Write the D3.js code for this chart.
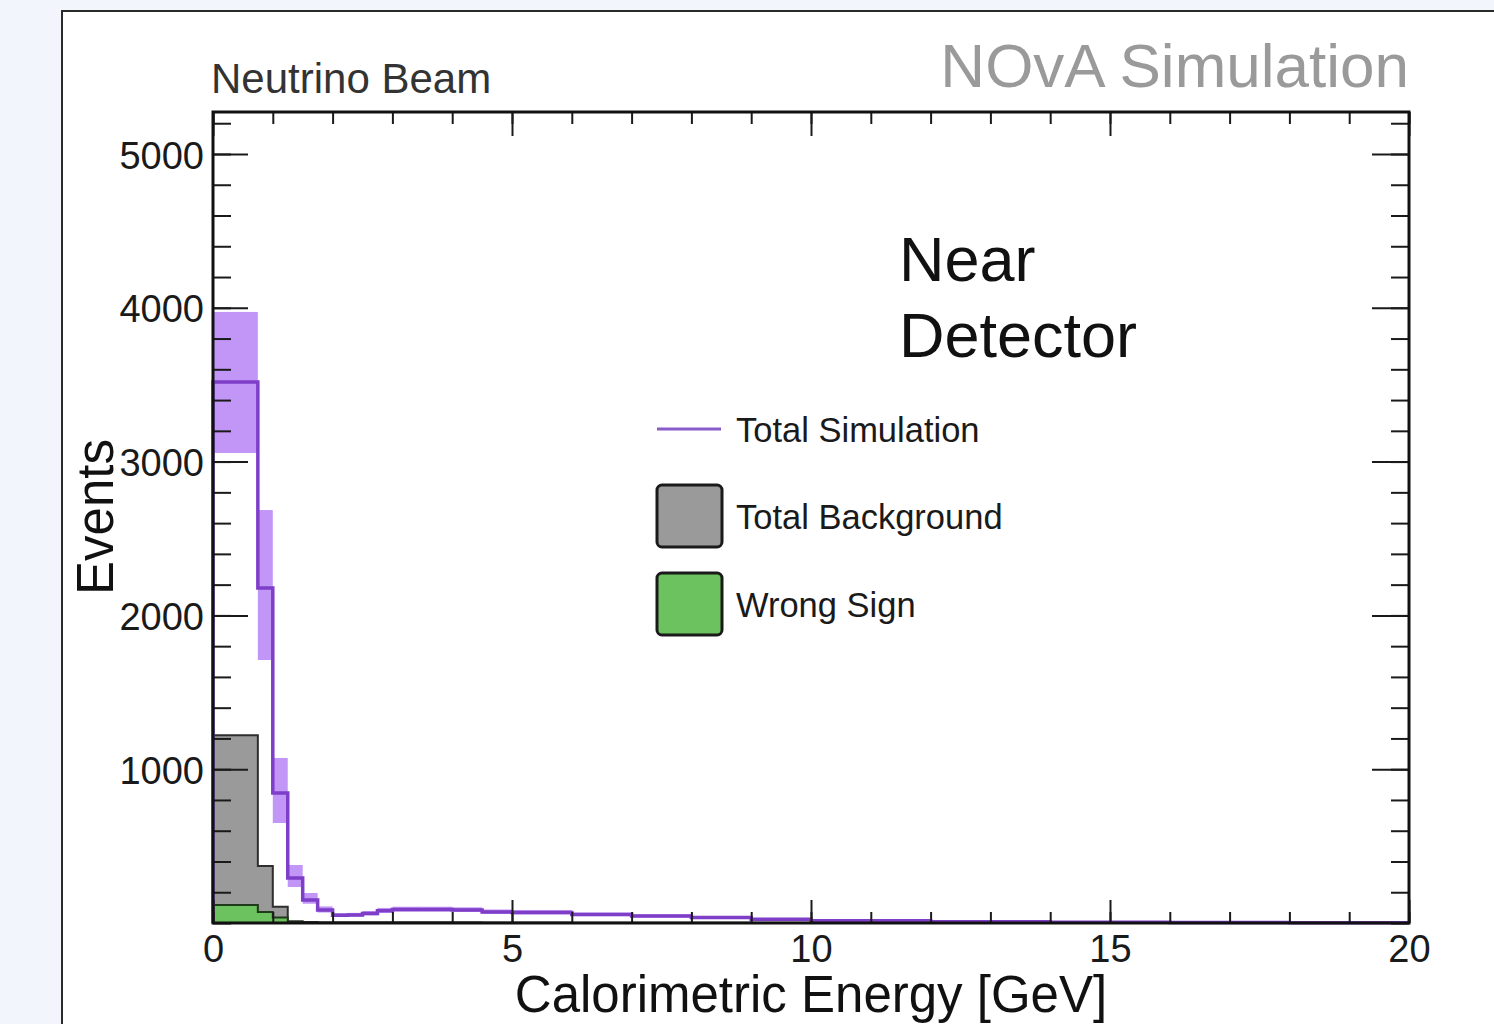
<!DOCTYPE html>
<html>
<head>
<meta charset="utf-8">
<script src="https://cdn.jsdelivr.net/npm/d3@7"></script>
<style>
  html, body { margin: 0; padding: 0; background: #f2f6fc; }
  svg { display: block; }
  text { font-family: "Liberation Sans", Arial, Helvetica, sans-serif; }
</style>
</head>
<body>
<svg id="chart" width="1494" height="1024"></svg>
<script>
// Bin edges in GeV (variable width)
const binEdges = [0, 0.75, 1.0, 1.25, 1.5, 1.75, 2.0, 2.25, 2.5, 2.75, 3.0, 3.5, 4.0, 4.5, 5.0,
                  6, 7, 8, 9, 10, 12, 14, 16, 18, 20];

// Total simulation (events per bin)
const totalSim = [3517, 2178, 845, 293, 150, 85, 50, 52, 62, 80, 88, 88, 85, 72,
                  68, 55, 45, 35, 25, 14, 8, 5, 3, 2];
// Systematic band around total simulation
const simLow  = [3056, 1710, 650, 234, 125, 68, 40, 42, 50, 66, 74, 74, 72, 60,
                 56, 45, 36, 28, 19, 10, 5, 3, 1, 1];
const simHigh = [3973, 2685, 1073, 377, 195, 108, 64, 66, 78, 98, 106, 106, 102, 88,
                 84, 68, 56, 44, 32, 19, 12, 8, 5, 3];
// Total background
const totalBkg = [1221, 370, 105, 12, 6, 4, 3, 3, 3, 3, 3, 3, 3, 2,
                  2, 2, 1, 1, 1, 1, 0, 0, 0, 0];
// Wrong-sign component
const wrongSign = [117, 72, 35, 3, 2, 1, 1, 1, 1, 1, 1, 1, 1, 1,
                   1, 0, 0, 0, 0, 0, 0, 0, 0, 0];

const xMajorTicks = [0, 5, 10, 15, 20];
const xMinorTicks = d3.range(0, 21, 1);
const yMajorTicks = [1000, 2000, 3000, 4000, 5000];
const yMinorTicks = d3.range(0, 5201, 200);

const legendItems = [
  { label: "Total Simulation", kind: "line" },
  { label: "Total Background", kind: "box", fill: "#9a9a9a" },
  { label: "Wrong Sign", kind: "box", fill: "#6cc25e" }
];

const svg = d3.select("#chart");

// Canvas panel
svg.append("rect")
  .attr("x", 62).attr("y", 11)
  .attr("width", 1500).attr("height", 1100)
  .attr("fill", "#ffffff")
  .attr("stroke", "#2a2a2a").attr("stroke-width", 2);

const plot = { left: 213, right: 1409, top: 112, bottom: 923 };

const x = d3.scaleLinear().domain([0, 20]).range([plot.left, plot.right]);
const y = d3.scaleLinear().domain([0, 5273]).range([plot.bottom, plot.top]);

const bins = totalSim.map((v, i) => ({
  x0: binEdges[i], x1: binEdges[i + 1],
  sim: v, lo: simLow[i], hi: simHigh[i],
  bkg: totalBkg[i], ws: wrongSign[i]
}));

const stepPoints = key => bins.flatMap(b => [[b.x0, b[key]], [b.x1, b[key]]]);

const g = svg.append("g");

// Uncertainty band
g.selectAll("rect.band").data(bins).join("rect")
  .attr("class", "band")
  .attr("x", d => x(d.x0))
  .attr("width", d => x(d.x1) - x(d.x0))
  .attr("y", d => y(d.hi))
  .attr("height", d => y(d.lo) - y(d.hi))
  .attr("fill", "#b784f5")
  .attr("opacity", 0.85);

const area = d3.area()
  .x(d => x(d[0]))
  .y0(y(0))
  .y1(d => y(d[1]));
const line = d3.line()
  .x(d => x(d[0]))
  .y(d => y(d[1]));

// Background histogram
g.append("path")
  .datum(stepPoints("bkg"))
  .attr("d", area)
  .attr("fill", "#9a9a9a");
g.append("path")
  .datum(stepPoints("bkg"))
  .attr("d", line)
  .attr("fill", "none")
  .attr("stroke", "#2e2e2e")
  .attr("stroke-width", 2);

// Wrong-sign histogram
g.append("path")
  .datum(stepPoints("ws"))
  .attr("d", area)
  .attr("fill", "#6cc25e");
g.append("path")
  .datum(stepPoints("ws"))
  .attr("d", line)
  .attr("fill", "none")
  .attr("stroke", "#1f3a1a")
  .attr("stroke-width", 2);

// Total simulation line
g.append("path")
  .datum([[0, 0], ...stepPoints("sim")])
  .attr("d", line)
  .attr("fill", "none")
  .attr("stroke", "#7e3ec8")
  .attr("stroke-width", 3.5);

// Axes with inward ticks on all four sides
function styleAxis(sel) {
  sel.select(".domain").remove();
  sel.selectAll(".tick line").attr("stroke", "#1a1a1a").attr("stroke-width", 2);
  sel.selectAll("text")
    .attr("fill", "#1a1a1a")
    .attr("font-size", 38)
    .attr("font-family", '"Liberation Sans", Arial, sans-serif');
}

svg.append("g").attr("transform", `translate(${plot.left},0)`)
  .call(d3.axisLeft(y).tickValues(yMinorTicks).tickSize(-18).tickFormat(""))
  .call(styleAxis);
svg.append("g").attr("transform", `translate(${plot.left},0)`)
  .call(d3.axisLeft(y).tickValues(yMajorTicks).tickSize(-35).tickPadding(9).tickFormat(d3.format("d")))
  .call(styleAxis)
  .call(s => s.selectAll("text").attr("dy", "0.37em"));

svg.append("g").attr("transform", `translate(${plot.right},0)`)
  .call(d3.axisRight(y).tickValues(yMinorTicks).tickSize(-18).tickFormat(""))
  .call(styleAxis);
svg.append("g").attr("transform", `translate(${plot.right},0)`)
  .call(d3.axisRight(y).tickValues(yMajorTicks).tickSize(-37).tickFormat(""))
  .call(styleAxis);

svg.append("g").attr("transform", `translate(0,${plot.bottom})`)
  .call(d3.axisBottom(x).tickValues(xMinorTicks).tickSize(-11).tickFormat(""))
  .call(styleAxis);
svg.append("g").attr("transform", `translate(0,${plot.bottom})`)
  .call(d3.axisBottom(x).tickValues(xMajorTicks).tickSize(-23).tickPadding(12).tickFormat(d3.format("d")))
  .call(styleAxis);

svg.append("g").attr("transform", `translate(0,${plot.top})`)
  .call(d3.axisTop(x).tickValues(xMinorTicks).tickSize(-12).tickFormat(""))
  .call(styleAxis);
svg.append("g").attr("transform", `translate(0,${plot.top})`)
  .call(d3.axisTop(x).tickValues(xMajorTicks).tickSize(-24).tickFormat(""))
  .call(styleAxis);

// Frame
svg.append("rect")
  .attr("x", plot.left).attr("y", plot.top)
  .attr("width", plot.right - plot.left)
  .attr("height", plot.bottom - plot.top)
  .attr("fill", "none")
  .attr("stroke", "#111")
  .attr("stroke-width", 3);

// Titles
svg.append("text")
  .attr("x", 211).attr("y", 93)
  .attr("font-size", 42)
  .attr("fill", "#333")
  .text("Neutrino Beam");

svg.append("text")
  .attr("x", 1409).attr("y", 87)
  .attr("text-anchor", "end")
  .attr("font-size", 62)
  .attr("fill", "#9a9a9a")
  .text("NOvA Simulation");

svg.append("text")
  .attr("x", x(10)).attr("y", 1012)
  .attr("text-anchor", "middle")
  .attr("font-size", 51)
  .attr("fill", "#111")
  .text("Calorimetric Energy [GeV]");

svg.append("text")
  .attr("transform", "translate(113,517) rotate(-90)")
  .attr("text-anchor", "middle")
  .attr("font-size", 51)
  .attr("fill", "#111")
  .text("Events");

const det = svg.append("text")
  .attr("x", 899)
  .attr("font-size", 63)
  .attr("fill", "#111");
det.append("tspan").attr("x", 899).attr("y", 281).text("Near");
det.append("tspan").attr("x", 899).attr("y", 357).text("Detector");

// Legend
const leg = svg.append("g");
const legY = [429, 516, 604];
legendItems.forEach((item, i) => {
  const cy = legY[i];
  if (item.kind === "line") {
    leg.append("line")
      .attr("x1", 657).attr("x2", 721)
      .attr("y1", cy).attr("y2", cy)
      .attr("stroke", "#8a5ccb").attr("stroke-width", 3);
  } else {
    leg.append("rect")
      .attr("x", 657).attr("y", cy - 31)
      .attr("width", 65).attr("height", 62)
      .attr("rx", 5)
      .attr("fill", item.fill)
      .attr("stroke", "#1a1a1a").attr("stroke-width", 3);
  }
  leg.append("text")
    .attr("x", 736).attr("y", cy + 13)
    .attr("font-size", 34.5)
    .attr("fill", "#1a1a1a")
    .text(item.label);
});
</script>
</body>
</html>
